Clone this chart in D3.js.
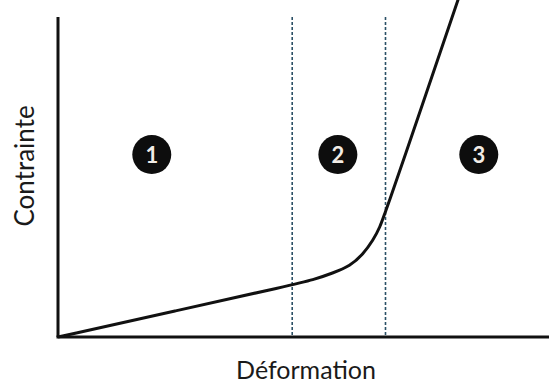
<!DOCTYPE html>
<html>
<head>
<meta charset="utf-8">
<script src="https://cdn.jsdelivr.net/npm/d3@7"></script>
<style>
  body { margin: 0; background: #fff; }
  svg text { font-family: Lato, "Open Sans", sans-serif; fill: #1a1a1a; }
</style>
</head>
<body>
<div id="chart"></div>
<script>
// Stress-strain curve (arbitrary units)
const curveX = [0, 2.38, 4.77, 5.19, 5.60, 5.95, 6.21, 6.42, 6.56, 6.66, 6.76, 6.90, 8.15];
const curveY = [0, 0.81, 1.63, 1.78, 2.00, 2.22, 2.58, 3.03, 3.44, 3.88, 4.31, 4.91, 10.55];
// zone boundaries
const zoneBounds = [4.77, 6.67];
// zone labels and their x position
const zoneLabels = ["1", "2", "3"];
const zoneLabelX = [1.91, 5.7, 8.57];
const zoneLabelY = 5.7;

const width = 549;
const height = 383;

const svg = d3.select('#chart')
  .append('svg')
  .attr('width', width)
  .attr('height', height);

const x = d3.scaleLinear().domain([0, 10]).range([58, 549]);
const y = d3.scaleLinear().domain([0, 10]).range([337, 17]);

// dashed zone boundaries
svg.selectAll(".bound")
  .data(zoneBounds)
  .enter()
  .append("line")
  .attr("x1", d => x(d))
  .attr("x2", d => x(d))
  .attr("y1", y(10))
  .attr("y2", y(0))
  .attr("stroke", "#2b5066")
  .attr("stroke-width", 1.6)
  .attr("stroke-dasharray", "3,2");

// axes (plain lines, no ticks)
svg.append("line")
  .attr("x1", x(0)).attr("x2", x(0))
  .attr("y1", y(10)).attr("y2", y(0))
  .attr("stroke", "#111").attr("stroke-width", 3);

svg.append("line")
  .attr("x1", x(0) - 1.5).attr("x2", x(10))
  .attr("y1", y(0)).attr("y2", y(0))
  .attr("stroke", "#111").attr("stroke-width", 3);

// curve
const pts = curveX.map((d, i) => [d, curveY[i]]);
const line = d3.line()
  .x(d => x(d[0]))
  .y(d => y(d[1]))
  .curve(d3.curveBasis);

svg.append("path")
  .datum(pts)
  .attr("d", line)
  .attr("fill", "none")
  .attr("stroke", "#111")
  .attr("stroke-width", 3)
  .attr("stroke-linejoin", "round");

// numbered zone markers
const marks = svg.selectAll(".mark")
  .data(zoneLabels)
  .enter()
  .append("g")
  .attr("transform", (d, i) => `translate(${x(zoneLabelX[i])},${y(zoneLabelY)})`);

marks.append("circle")
  .attr("r", 19.5)
  .attr("fill", "#0d0d0d");

marks.append("text")
  .attr("text-anchor", "middle")
  .attr("dy", "0.36em")
  .style("font-size", "22px")
  .style("font-weight", "bold")
  .style("fill", "#f2ece6")
  .text(d => d);

// axis titles
svg.append("text")
  .attr("x", 306)
  .attr("y", 379)
  .attr("text-anchor", "middle")
  .style("font-size", "25px")
  .text("Déformation");

svg.append("text")
  .attr("transform", `translate(34,166) rotate(-90)`)
  .attr("text-anchor", "middle")
  .style("font-size", "26px")
  .text("Contrainte");
</script>
</body>
</html>
